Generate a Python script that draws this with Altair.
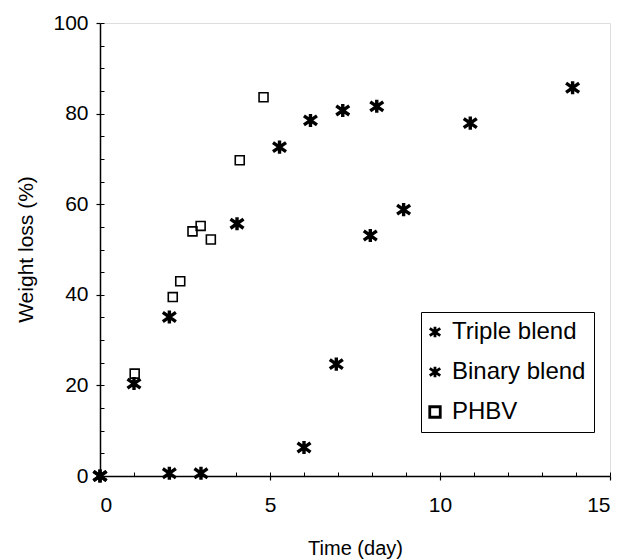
import altair as alt
import pandas as pd

series_names = ["Triple blend", "Binary blend", "PHBV"]

triple_x = [0, 1.0, 2.04, 4.03, 5.28, 6.19, 7.14, 8.14]
triple_y = [0, 20.4, 35.1, 55.7, 72.6, 78.5, 80.7, 81.6]

binary_x = [0, 2.04, 2.97, 6.0, 6.95, 7.95, 8.93, 10.89, 13.9]
binary_y = [0, 0.6, 0.6, 6.3, 24.7, 53.1, 58.8, 77.9, 85.7]

phbv_x = [1.02, 2.14, 2.36, 2.72, 2.96, 3.26, 4.11, 4.81]
phbv_y = [22.6, 39.5, 43.0, 54.0, 55.2, 52.2, 69.7, 83.6]

x_major = [0, 5, 10, 15]
y_major = [0, 20, 40, 60, 80, 100]
x_minor = list(range(0, 16))
y_minor = list(range(0, 101, 5))

rows = []
for name, xs, ys in zip(series_names, [triple_x, binary_x, phbv_x], [triple_y, binary_y, phbv_y]):
    for a, b in zip(xs, ys):
        rows.append({"series": name, "x": a, "y": b})
df = pd.DataFrame(rows)

FONT = "Liberation Sans"
star = "M-1,-0.7L1,0.7M-1,0.7L1,-0.7M0,-1L0,1"

xscale = alt.Scale(domain=[0, 15], nice=False, zero=False)
yscale = alt.Scale(domain=[0, 100], nice=False, zero=False)

legend = alt.Legend(title=None, orient="none", legendX=321, legendY=289,
                    strokeColor="black", padding=8, fillColor="white",
                    labelFont=FONT, labelFontSize=24, labelColor="black",
                    labelOffset=5, symbolOffset={"expr": "-6"}, rowPadding=16, symbolSize=110,
                    symbolStrokeWidth=2.8, symbolStrokeColor="black",
                    symbolFillColor="transparent")
shape_enc = alt.Shape("series:N", scale=alt.Scale(domain=series_names, range=[star, star, "square"]),
                      legend=legend)

x_main = alt.X("x:Q", scale=xscale,
               axis=alt.Axis(values=x_major, title="Time (day)", orient="bottom", grid=False,
                             tickSize=4, tickColor="black", tickWidth=1.2,
                             domainColor="black", domainWidth=1.5,
                             labelFont=FONT, labelFontSize=21, labelColor="black", labelPadding=14,
                             titleFont=FONT, titleFontSize=20, titleFontWeight="normal", titleColor="black",
                             titleBaseline="alphabetic", titleY=78))
y_main = alt.Y("y:Q", scale=yscale,
               axis=alt.Axis(values=y_major, title="Weight loss (%)", orient="left", grid=False,
                             tickSize=4, tickColor="black", tickWidth=1.2,
                             domainColor="black", domainWidth=1.5,
                             labelFont=FONT, labelFontSize=21, labelColor="black", labelPadding=8,
                             titleFont=FONT, titleFontSize=21, titleFontWeight="normal", titleColor="black",
                             titleBaseline="alphabetic", titleAlign="center", titleAngle=270,
                             titleX=-68, titleY=226))

blends = alt.Chart(df).transform_filter(
    alt.datum.series != "PHBV"
).mark_point(filled=False, color="black", opacity=1, size=170, strokeWidth=3.4).encode(
    x=x_main, y=y_main, shape=shape_enc,
)

squares = alt.Chart(df).transform_filter(
    alt.datum.series == "PHBV"
).mark_point(filled=False, color="black", opacity=1, size=80, strokeWidth=1.6).encode(
    x=alt.X("x:Q", scale=xscale, axis=None), y=alt.Y("y:Q", scale=yscale, axis=None), shape=shape_enc,
)

minor = alt.Chart(df).mark_point(opacity=0).encode(
    x=alt.X("x:Q", scale=xscale,
            axis=alt.Axis(values=x_minor, labels=False, domain=False, title=None, grid=False,
                          orient="bottom", offset=-4, tickSize=4, tickColor="black", tickWidth=1)),
    y=alt.Y("y:Q", scale=yscale,
            axis=alt.Axis(values=y_minor, labels=False, domain=False, title=None, grid=False,
                          orient="left", offset=-4, tickSize=4, tickColor="black", tickWidth=1)),
)

chart = alt.layer(blends, squares, minor).resolve_axis(x="independent", y="independent").properties(
    width=510, height=453,
    autosize=alt.AutoSizeParams(type="none"),
    padding={"left": 100, "top": 23, "right": 13, "bottom": 84},
).configure_view(stroke="black", strokeWidth=2).configure(background="white")

chart.save("out.html", embed_options={"renderer": "svg", "actions": False})
